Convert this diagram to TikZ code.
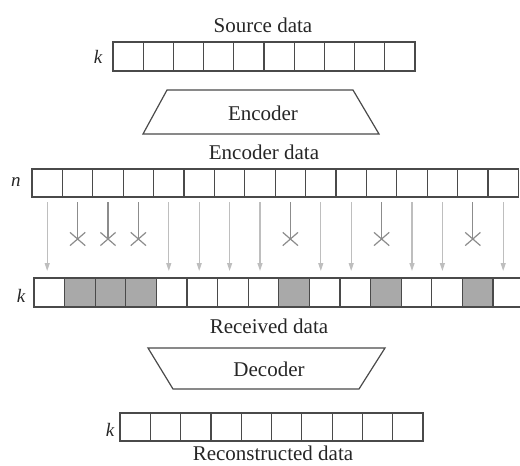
\documentclass[tikz,border=0pt]{standalone}
\usepackage{fontspec}
\setmainfont{Liberation Serif}
\usetikzlibrary{arrows.meta,shapes.misc}
\definecolor{cellc}{HTML}{4A4A4A}
\definecolor{lostc}{HTML}{A9A9A9}
\definecolor{okarrow}{HTML}{BEBEBE}
\definecolor{lostarrow}{HTML}{8C8C8C}
\begin{document}
\begin{tikzpicture}[x=1pt,y=-1pt,
  txt/.style={font=\fontsize{21}{24}\selectfont, inner sep=0pt, text=black!85},
  varlab/.style={font=\fontsize{19}{22}\selectfont\itshape, inner sep=0pt, text=black!85},
  cellbox/.style={draw=cellc, line width=1.2pt, minimum width=#1, inner sep=0pt, outer sep=0pt, anchor=north west, fill=white},
  lostcell/.style={fill=lostc},
  coder/.style={draw=cellc, line width=1.2pt, line join=miter},
  okline/.style={draw=okarrow, line width=1.2pt, -{Triangle[length=8pt,width=5pt]}, shorten <=5pt, shorten >=7pt},
  lostline/.style={draw=lostarrow, line width=1.2pt, shorten <=5pt},
  lostmark/.style={cross out, draw=lostarrow, line width=1.2pt, minimum width=14pt, minimum height=12pt, inner sep=0pt}
]
\useasboundingbox (0,0) rectangle (520,466);
\clip (0,0) rectangle (520,466);

% Source data
\node[txt] (srclab) at (263,25) {Source data};
\node[varlab] (ks) at (98,57) {k};
\foreach \i in {1,...,10}
  \node[cellbox=30.2pt, minimum height=29pt] (s\i) at ({113+(\i-1)*30.2},42) {};

% Encoder
\draw[coder] (167,90) -- (353,90) -- (379,134) -- (143,134) -- cycle;
\node[txt] (enc) at (263,113) {Encoder};
\node[txt] (enclab) at (264,152) {Encoder data};

% Encoded data
\node[varlab] (kn) at (16,182) {n};
\foreach \i in {1,...,16}
  \node[cellbox=30.4pt, minimum height=28pt] (e\i) at ({32+(\i-1)*30.4},169) {};

% Received data
\node[varlab] (kr) at (21,296) {k};
\foreach \i in {1,...,16}
  \node[cellbox=30.6pt, minimum height=29pt] (r\i) at ({34+(\i-1)*30.6},278) {};
\foreach \i in {2,3,4,9,12,15}
  \node[cellbox=30.6pt, minimum height=29pt, lostcell] (r\i) at ({34+(\i-1)*30.6},278) {};

% Transmission arrows
\foreach \i in {1,5,6,7,8,10,11,13,14,16}
  \draw[okline] (e\i.south) -- (e\i.south |- r\i.north);
\foreach \i in {2,3,4,9,12,15}{
  \node[lostmark] (x\i) at (e\i.south |- 0,239) {};
  \draw[lostline] (e\i.south) -- (x\i.center);
}

\node[txt] (reclab) at (269,326) {Received data};

% Decoder
\draw[coder] (148,348) -- (385,348) -- (359,389) -- (173,389) -- cycle;
\node[txt] (dec) at (269,369) {Decoder};

% Reconstructed data
\node[varlab] (kc) at (110,430) {k};
\foreach \i in {1,...,10}
  \node[cellbox=30.3pt, minimum height=28pt] (c\i) at ({120+(\i-1)*30.3},413) {};
\node[txt] (conlab) at (273,453) {Reconstructed data};
\end{tikzpicture}
\end{document}
